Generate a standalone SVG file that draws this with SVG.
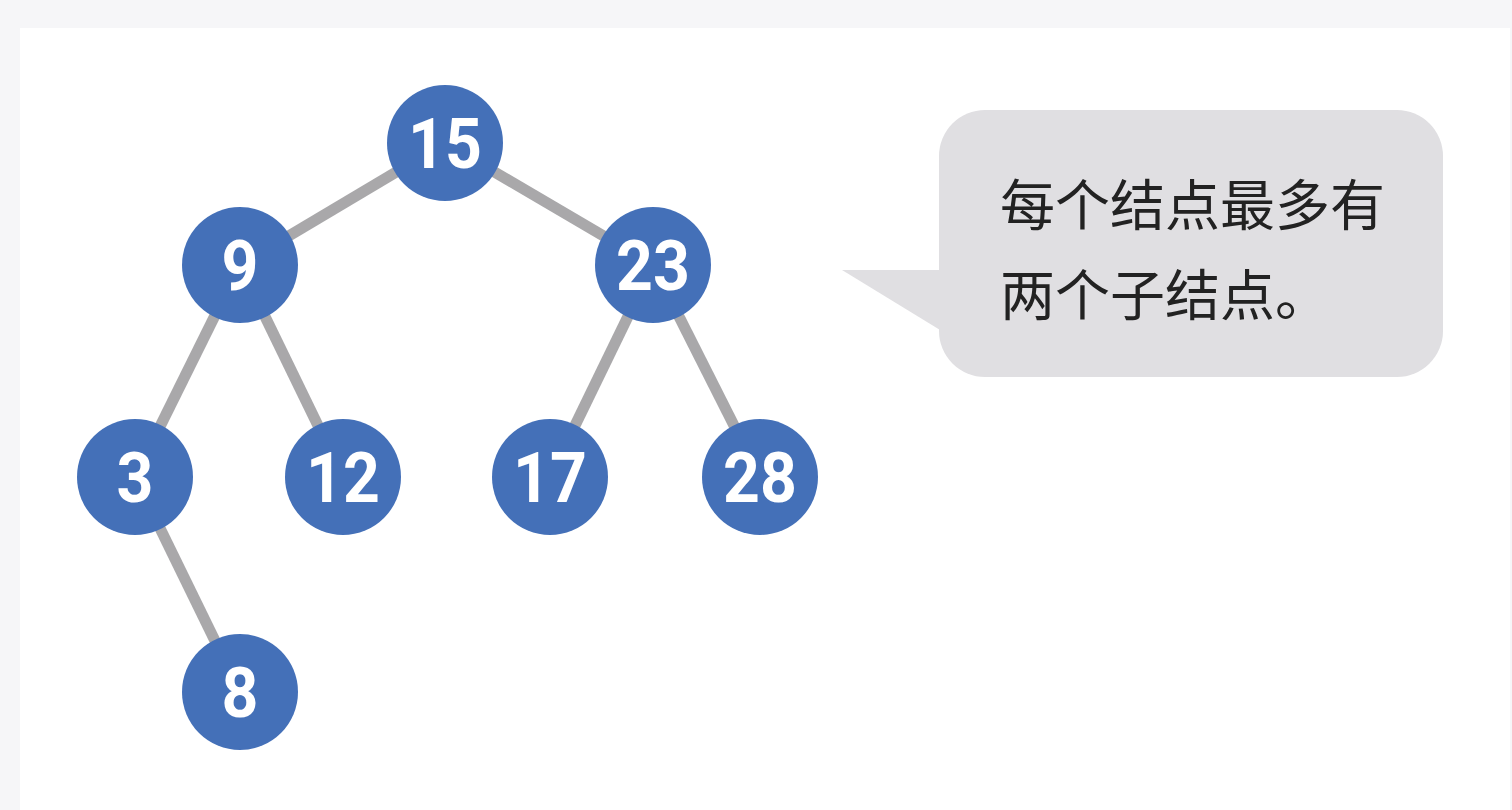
<svg xmlns="http://www.w3.org/2000/svg" width="1512" height="810" viewBox="0 0 1512 810">
<style>
.edge{stroke:#a9a8aa;stroke-width:11;fill:none}
.node circle{fill:#4470b8}
.node text{fill:#ffffff;font-family:Roboto,"Liberation Sans",sans-serif;font-weight:bold;font-size:70px;text-anchor:middle}
.note{font-family:"Noto Sans CJK SC","Noto Sans",sans-serif;font-size:55px;font-weight:400;fill:#222222}
</style>
<rect x="0" y="0" width="1512" height="810" fill="#f6f6f8"/>
<rect x="20" y="28" width="1490" height="782" fill="#ffffff"/>
<g id="connectors">
<line class="edge" x1="445" y1="143" x2="240" y2="265"/>
<line class="edge" x1="445" y1="143" x2="653" y2="265"/>
<line class="edge" x1="240" y1="265" x2="135" y2="477"/>
<line class="edge" x1="240" y1="265" x2="343" y2="477"/>
<line class="edge" x1="653" y1="265" x2="550" y2="477"/>
<line class="edge" x1="653" y1="265" x2="760" y2="477"/>
<line class="edge" x1="135" y1="477" x2="240" y2="692"/>
</g>
<g id="n15" class="node"><circle cx="445" cy="143" r="58"/><text transform="translate(445,168) scale(0.92,1)">15</text></g>
<g id="n9" class="node"><circle cx="240" cy="265" r="58"/><text transform="translate(240,290) scale(0.92,1)">9</text></g>
<g id="n23" class="node"><circle cx="653" cy="265" r="58"/><text transform="translate(653,290) scale(0.92,1)">23</text></g>
<g id="n3" class="node"><circle cx="135" cy="477" r="58"/><text transform="translate(135,502) scale(0.92,1)">3</text></g>
<g id="n12" class="node"><circle cx="343" cy="477" r="58"/><text transform="translate(343,502) scale(0.92,1)">12</text></g>
<g id="n17" class="node"><circle cx="550" cy="477" r="58"/><text transform="translate(550,502) scale(0.92,1)">17</text></g>
<g id="n28" class="node"><circle cx="760" cy="477" r="58"/><text transform="translate(760,502) scale(0.92,1)">28</text></g>
<g id="n8" class="node"><circle cx="240" cy="692" r="58"/><text transform="translate(240,717) scale(0.92,1)">8</text></g>
<g id="callout">
<rect x="939" y="110" width="504" height="267" rx="46" ry="46" fill="#e0dfe2"/>
<polygon points="842,270 945,270 945,333" fill="#e0dfe2"/>
<text class="note" x="1000" y="225">每个结点最多有</text>
<text class="note" x="1000" y="315">两个子结点。</text>
</g>
</svg>
